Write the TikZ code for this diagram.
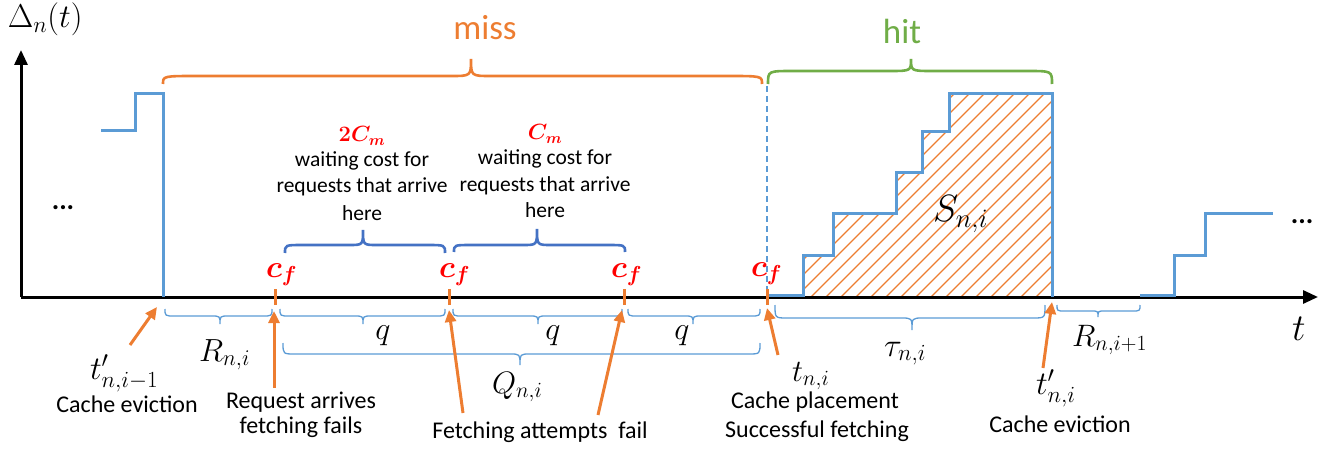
\RequirePackage{fix-cm}
\documentclass[tikz,border=0pt]{standalone}
\usepackage[no-math]{fontspec}
\setmainfont{Carlito}
\usepackage{bm}
\usetikzlibrary{arrows.meta}
\definecolor{lblue}{HTML}{5B9BD5}
\definecolor{dblue}{HTML}{4472C4}
\definecolor{orng}{HTML}{ED7D31}
\definecolor{grn}{HTML}{70AD47}
\definecolor{redc}{HTML}{FF0000}
% brace: [style]{x1}{x2}{xtip}{yend}{yflat}{ytip}{rend}{rtip}
\newcommand{\mybrace}[9][]{%
  \draw[#1] (#2,#5) .. controls (#2,#6) .. (#2+#8,#6) -- (#4-#9,#6)
    .. controls (#4,#6) .. (#4,#7) .. controls (#4,#6) .. (#4+#9,#6)
    -- (#3-#8,#6) .. controls (#3,#6) .. (#3,#5);}
\begin{document}
\begin{tikzpicture}[x=1pt,y=-1pt,
  axisline/.style={line width=3pt, black},
  stepline/.style={lblue, line width=3pt, line join=miter},
  bigbrace/.style={line width=2.6pt},
  thinbrace/.style={lblue, line width=1.3pt},
  tickmark/.style={orng, line width=3pt},
  pointer/.style={orng, line width=3pt, -{Triangle[length=12pt,width=11pt]}},
  lbl/.style={inner sep=0pt, outer sep=0pt},
  txt/.style={lbl, font=\fontsize{24}{28}\selectfont},
  wtxt/.style={lbl, font=\fontsize{21.5}{26}\selectfont},
  mth/.style={lbl, font=\fontsize{33}{38}\selectfont},
  mthm/.style={lbl, font=\fontsize{31}{36}\selectfont},
  mths/.style={lbl, font=\fontsize{32}{36}\selectfont},
  bigmath/.style={lbl, font=\fontsize{38}{44}\selectfont},
  cflbl/.style={lbl, text=redc, font=\fontsize{31}{34}\selectfont},
  costlbl/.style={lbl, text=redc, font=\fontsize{22}{26}\selectfont},
  dotslbl/.style={lbl, font=\bfseries\fontsize{28}{30}\selectfont},
  ttl/.style={lbl, font=\fontsize{35}{40}\selectfont}]
\useasboundingbox (0,0) rectangle (1335,449);

% hatched area
\begin{scope}
\clip (803,297) -- (803,255) -- (833,255) -- (833,213) -- (896,213) -- (896,173)
  -- (922,173) -- (922,132) -- (949,132) -- (949,94) -- (1052,94) -- (1052,297) -- cycle;
\foreach \k in {0,...,32} \draw[orng, line width=1.3pt] ({598+15*\k},300) -- ++(215,-215);
\end{scope}

% axes
\coordinate (O) at (21,297);
\coordinate (yend) at (21,50);
\coordinate (xend) at (1318,297);
\draw[axisline, -{Triangle[length=15pt,width=13pt]}] (O) -- (yend);
\draw[axisline, -{Triangle[length=15pt,width=13pt]}] (O) -- (xend);

% blue step curves
\draw[stepline] (101,131) -- (135,131) -- (135,94) -- (163,94) -- (163,297);
\draw[stepline] (768,295) -- (803,295) -- (803,255) -- (833,255) -- (833,213) -- (896,213)
  -- (896,173) -- (922,173) -- (922,132) -- (949,132) -- (949,94) -- (1052,94) -- (1052,297);
\draw[stepline] (1140,295) -- (1174,295) -- (1174,255) -- (1205,255) -- (1205,213) -- (1273,213);
\draw[lblue, line width=1.5pt, dash pattern=on 6pt off 4pt] (767,86) -- (767,289);

% c_f ticks
\coordinate (k1) at (275,297); \coordinate (k2) at (449,297);
\coordinate (k3) at (624,297); \coordinate (k4) at (767,297);
\foreach \p in {k1,k2,k3,k4} \draw[tickmark] ([yshift=-8pt]\p) -- ([yshift=8pt]\p);

% top braces
\mybrace[bigbrace, orng]{163}{762}{471}{84}{76}{59}{35}{20}
\mybrace[bigbrace, grn]{768}{1052}{911}{84}{71}{59}{25}{22}
\node[ttl, text=orng, anchor=base] (miss) at (485,40) {miss};
\node[ttl, text=grn, anchor=base] (hit) at (902,44) {hit};

% upper cost braces
\mybrace[bigbrace, dblue]{285}{445}{363}{253}{245}{230}{18}{14}
\mybrace[bigbrace, dblue]{454}{625}{537}{252}{245}{229}{18}{14}

% lower interval braces
\mybrace[thinbrace]{165}{272}{220}{309}{316}{324}{10}{9}
\mybrace[thinbrace]{280}{445}{363}{309}{316}{324}{10}{9}
\mybrace[thinbrace]{453}{622}{538}{309}{316}{324}{10}{9}
\mybrace[thinbrace]{628}{760}{693}{309}{316}{324}{10}{9}
\mybrace[thinbrace]{283}{760}{520}{343}{354}{365}{12}{10}
\mybrace[thinbrace]{775}{1045}{912}{305}{318}{330}{12}{11}
\mybrace[thinbrace]{1057}{1140}{1098}{305}{311}{317}{8}{7}

% labels
\node[mth, anchor=base west] (D) at (8,28) {$\Delta_n(t)$};
\node[dotslbl, anchor=base] (dl) at (63,210) {...};
\node[dotslbl, anchor=base] (dr) at (1302,223) {...};
\node[bigmath, anchor=base west] (tax) at (1292,340) {$t$};
\node[bigmath, anchor=base west] (S) at (933,222) {$S_{n,i}$};

\node[cflbl, anchor=base west] (cf1) at (266,277) {$\bm{c_f}$};
\node[cflbl, anchor=base west] (cf2) at (439,277) {$\bm{c_f}$};
\node[cflbl, anchor=base west] (cf3) at (611,277) {$\bm{c_f}$};
\node[cflbl, anchor=base west] (cf4) at (751,276) {$\bm{c_f}$};

\node[costlbl, anchor=base] (cm2) at (362,142) {$\bm{2C_m}$};
\node[wtxt, anchor=base] (w1a) at (362,167) {waiting cost for};
\node[wtxt, anchor=base] (w1b) at (362,193) {requests that arrive};
\node[wtxt, anchor=base] (w1c) at (362,220) {here};
\node[costlbl, anchor=base] (cm1) at (545,140) {$\bm{C_m}$};
\node[wtxt, anchor=base] (w2a) at (545,165) {waiting cost for};
\node[wtxt, anchor=base] (w2b) at (545,192) {requests that arrive};
\node[wtxt, anchor=base] (w2c) at (545,218) {here};

\node[mth, anchor=base west] (tp1) at (90,379) {$t'_{n,i-1}$};
\node[txt, anchor=base] (ce1) at (127,412) {Cache eviction};
\node[mths, anchor=base west] (R1) at (199,361) {$R_{n,i}$};
\node[txt, anchor=base] (ra1) at (301,408) {Request arrives};
\node[txt, anchor=base] (ra2) at (301,433) {fetching fails};
\node[mths, anchor=base] (q1) at (383,339) {$q$};
\node[mths, anchor=base] (q2) at (553,339) {$q$};
\node[mths, anchor=base] (q3) at (682,339) {$q$};
\node[mthm, anchor=base west] (Q) at (492,393) {$Q_{n,i}$};
\node[txt, anchor=base] (fa) at (540,438) {Fetching attempts\ \ fail};
\node[mthm, anchor=base west] (tn) at (792,381) {$t_{n,i}$};
\node[txt, anchor=base] (cp1) at (815,408) {Cache placement};
\node[txt, anchor=base] (cp2) at (817,437) {Successful fetching};
\node[mth, anchor=base west] (tau) at (884,356) {$\tau_{n,i}$};
\node[mth, anchor=base west] (tpn) at (1036,394) {$t'_{n,i}$};
\node[txt, anchor=base] (ce2) at (1060,432) {Cache eviction};
\node[mthm, anchor=base west] (R2) at (1072,346) {$R_{n,i+1}$};

% pointers
\coordinate (a1s) at (130,345); \coordinate (a1e) at (157,307);
\coordinate (a2s) at (274,388); \coordinate (a2e) at (274,311);
\coordinate (a3s) at (463,413); \coordinate (a3e) at (449,310);
\coordinate (a4s) at (598,415); \coordinate (a4e) at (622,310);
\coordinate (a5s) at (778,355); \coordinate (a5e) at (767,308);
\coordinate (a6s) at (1043,368); \coordinate (a6e) at (1052,302);
\foreach \i in {1,...,6} \draw[pointer] (a\i s) -- (a\i e);
\end{tikzpicture}
\end{document}
